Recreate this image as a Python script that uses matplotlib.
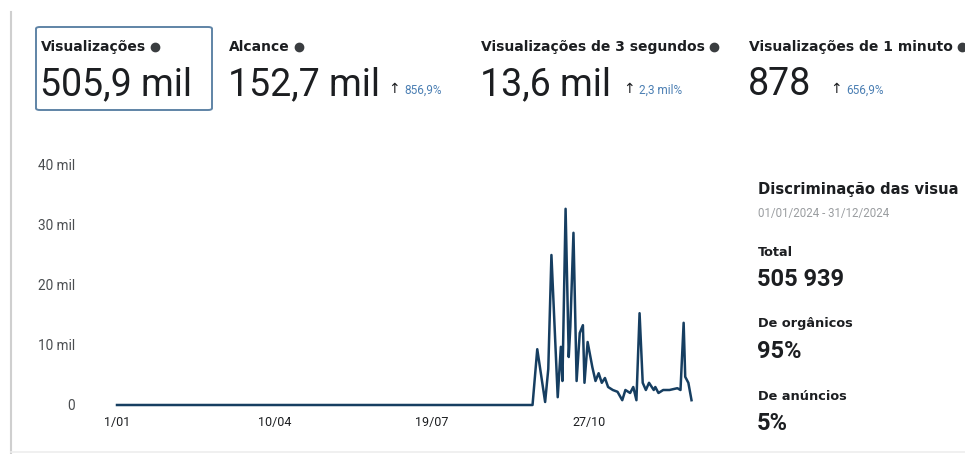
import matplotlib
matplotlib.use("Agg")
import matplotlib.pyplot as plt
from matplotlib.patches import FancyBboxPatch
from matplotlib.lines import Line2D

# daily views (day index since 1 Jan 2024)
days = [0, 264, 267, 272, 274, 276, 280, 282, 283, 285, 287, 288, 290, 292,
        294, 296, 297, 299, 302, 304, 306, 308, 310, 312, 315, 318, 321, 323,
        326, 328, 330, 332, 334, 336, 338, 341, 342, 344, 347, 351, 356, 358,
        360, 361, 363, 365]
views = [0, 0, 9300, 500, 6000, 25000, 1300, 9700, 4000, 32700, 8000, 13000,
         28700, 4000, 12000, 13300, 3700, 10500, 6300, 4000, 5300, 3700, 4500,
         3000, 2500, 2200, 800, 2500, 2000, 3000, 800, 15300, 3700, 2500, 3700,
         2500, 3000, 2000, 2500, 2500, 2800, 2500, 13700, 4700, 3700, 800]

xtick_pos = [0, 100, 200, 300]
xtick_labels = ["1/01", "10/04", "19/07", "27/10"]
ytick_pos = [0, 10000, 20000, 30000, 40000]
ytick_labels = ["0", "10 mil", "20 mil", "30 mil", "40 mil"]

metric_names = ["Visualizações", "Alcance", "Visualizações de 3 segundos",
                "Visualizações de 1 minuto"]
metric_values = ["505,9 mil", "152,7 mil", "13,6 mil", "878"]
metric_changes = [None, "856,9%", "2,3 mil%", "656,9%"]

W, H = 965, 454
fig = plt.figure(figsize=(W / 100, H / 100), dpi=100)
fig.patch.set_facecolor("white")
plt.rcParams['font.family'] = ['Roboto', 'DejaVu Sans']
HEAD = ['DejaVu Sans']
DARK = "#1c1e21"


def fx(x):
    return x / W


def fy(y):
    return 1 - y / H


# page borders
fig.add_artist(Line2D([fx(11), fx(11)], [fy(12), fy(454)], color="#cfcfcf",
                      lw=1.5, transform=fig.transFigure))
fig.add_artist(Line2D([fx(11), fx(965)], [fy(452), fy(452)], color="#eeeeee",
                      lw=1.2, transform=fig.transFigure))

# selected card box
fig.add_artist(FancyBboxPatch((fx(36), fy(110)), fx(212) - fx(36), fy(27) - fy(110),
                              boxstyle="round,pad=0,rounding_size=0.004",
                              transform=fig.transFigure, fill=False,
                              ec="#5f84a6", lw=1.4))

renderer = fig.canvas.get_renderer()

# metric headers
name_x = [41, 229, 481, 749]
arrow_x = [None, 388, 623, 830]
for i in range(4):
    t = fig.text(fx(name_x[i]), fy(47), metric_names[i], fontsize=10,
                 fontweight="bold", color=DARK, va="center", ha="left", family=HEAD)
    ext = t.get_window_extent(renderer)
    fig.add_artist(Line2D([fx(ext.x1 + 9)], [fy(47)], marker="o", ms=6,
                          color="#3a3d40", transform=fig.transFigure))
    fig.text(fx(name_x[i] - 1), fy(95), metric_values[i], fontsize=27,
             color=DARK, va="baseline", ha="left")
    if metric_changes[i]:
        fig.text(fx(arrow_x[i]), fy(93), "↑", fontsize=10, color=DARK,
                 va="baseline", ha="left", family=['DejaVu Sans'])
        fig.text(fx(arrow_x[i] + 16), fy(94), metric_changes[i], fontsize=8.5,
                 color="#4b7fb3", va="baseline", ha="left")

# chart
x0, x1 = -2, 367
px_per_day = 1.574
left_px = 117 + x0 * px_per_day
right_px = 117 + x1 * px_per_day
ax = fig.add_axes([fx(left_px), fy(405), (right_px - left_px) / W, (405 - 165) / H])
ax.plot(days, views, color="#163e61", lw=1.8, clip_on=False)
ax.set_xlim(x0, x1)
ax.set_ylim(0, 40000)
ax.set_xticks(xtick_pos)
ax.set_xticklabels(xtick_labels)
ax.set_yticks(ytick_pos)
ax.set_yticklabels(ytick_labels)
ax.tick_params(axis="x", length=0, pad=8, labelsize=9, labelcolor=DARK)
ax.tick_params(axis="y", length=0, pad=28, labelsize=9.8, labelcolor="#4a4d50")
for s in ax.spines.values():
    s.set_visible(False)
ax.set_facecolor("none")

# breakdown panel
fig.text(fx(758), fy(190), "Discriminação das visua", fontsize=10.6,
         fontweight="bold", color=DARK, va="center", ha="left", family=HEAD)
fig.text(fx(758), fy(214), "01/01/2024 - 31/12/2024", fontsize=8.3,
         color="#9a9da0", va="center", ha="left")
panel = [("Total", "505 939", 252, 280), ("De orgânicos", "95%", 324, 352),
         ("De anúncios", "5%", 396, 424)]
for label, val, ly, vy in panel:
    fig.text(fx(758), fy(ly), label, fontsize=9.3, fontweight="bold",
             color=DARK, va="center", ha="left", family=HEAD)
    fig.text(fx(757), fy(vy), val, fontsize=17, fontweight="bold",
             color=DARK, va="center", ha="left")

fig.savefig("out.png", dpi=100, facecolor="white")
